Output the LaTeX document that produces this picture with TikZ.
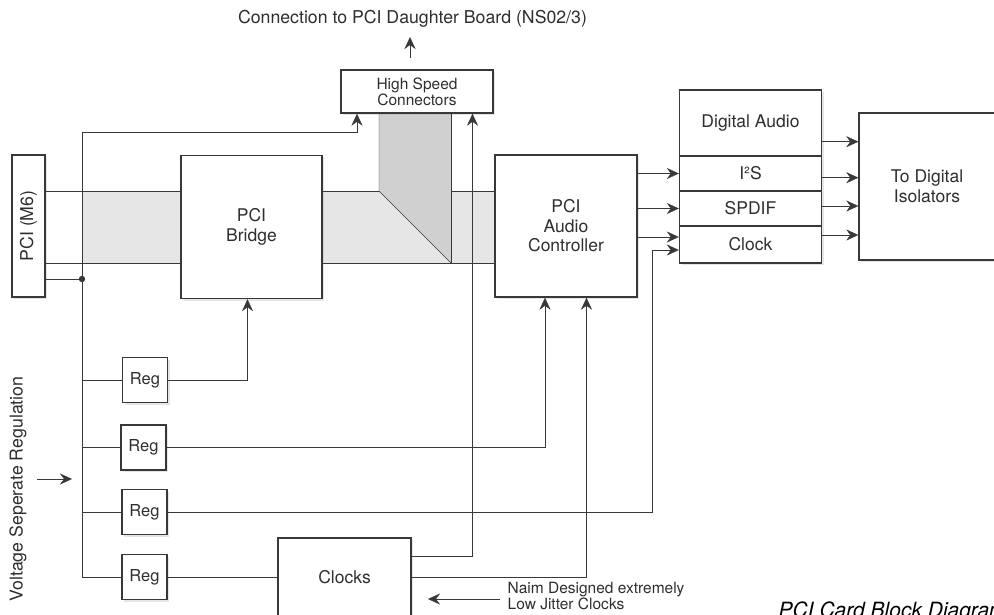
\documentclass[tikz,border=0pt]{standalone}
\usepackage{fontspec}
\setmainfont{TeX Gyre Heros}
\usetikzlibrary{arrows.meta,shadows,calc,backgrounds}
\definecolor{ln}{HTML}{383838}
\definecolor{tx}{HTML}{2E2E2E}
\definecolor{busfill}{HTML}{E6E6E6}
\definecolor{wedgefill}{HTML}{D0D0D0}
\begin{document}
\begin{tikzpicture}[x=1pt,y=-1pt,line width=1.4pt,color=ln,
  blk/.style={draw=ln,fill=white,inner sep=0pt,align=center,text=tx,
    font=\fontsize{17.5}{19.5}\selectfont,
    drop shadow={shadow xshift=2pt,shadow yshift=-2pt,opacity=0.2}},
  rowbox/.style={draw=ln,inner sep=0pt,align=center,text=tx,minimum width=142pt,
    font=\fontsize{17.5}{19.5}\selectfont},
  regbox/.style={blk,minimum width=45pt,minimum height=45pt,font=\fontsize{16.5}{18}\selectfont},
  lbl/.style={inner sep=0pt,text=tx,font=\fontsize{17.7}{19.5}\selectfont},
  smalllbl/.style={inner sep=0pt,text=tx,font=\fontsize{15.5}{15.5}\selectfont},
  arr/.style={-{Stealth[length=12pt,width=11pt,inset=4pt]}}]
\useasboundingbox (0,0) rectangle (994,615);
\clip (0,0) rectangle (994,615);

% boxes
\node[blk,minimum width=33pt,minimum height=142pt] (pci) at (28.5,226) {};
\node[lbl,rotate=90] (pcit) at (pci.center) {PCI (M6)};
\node[blk,minimum width=141pt,minimum height=143pt] (bridge) at (251.5,227) {PCI\\Bridge};
\node[blk,minimum width=152pt,minimum height=43pt,font=\fontsize{15.5}{16}\selectfont] (hsc) at (417,91.5) {High Speed\\Connectors};
\node[blk,minimum width=142pt,minimum height=142pt] (ac) at (566,226) {PCI\\Audio\\Controller};
\node[blk,minimum width=142pt,minimum height=173pt] (grp) at (750.5,176.5) {};
\node[rowbox,minimum height=66pt] (da) at (750.5,123) {Digital Audio};
\node[rowbox,minimum height=35pt] (i2s) at (750.5,173.5) {I²S};
\node[rowbox,minimum height=35pt] (spdif) at (750.5,208.5) {SPDIF};
\node[rowbox,minimum height=37pt] (clk) at (750.5,244.5) {Clock};
\node[blk,minimum width=136pt,minimum height=147pt] (iso) at (927,186.5) {To Digital\\Isolators};
\node[regbox] (r1) at (145,380) {Reg};
\node[regbox] (r2) at (143.5,447.5) {Reg};
\node[regbox] (r3) at (144.5,512) {Reg};
\node[regbox] (r4) at (144.5,577) {Reg};
\node[blk,minimum width=133pt,minimum height=78pt] (clocks) at (344.5,577) {Clocks};

% free texts
\node[lbl] (toptext) at (412.5,19) {Connection to PCI Daughter Board (NS02/3)};
\node[lbl,rotate=90] (volt) at (18,489) {Voltage Seperate Regulation};
\node[smalllbl,align=left,anchor=west] (naim) at (507,596) {Naim Designed extremely\\Low Jitter Clocks};
\node[anchor=base west,inner sep=0pt,text=black,font=\itshape\fontsize{21}{23}\selectfont] (cap) at (778,617) {PCI Card Block Diagram};

% buses
\coordinate (vt) at (82,132);
\coordinate (vb) at (82,577);
\coordinate (p1) at ($(pci.east)+(0,-35)$);
\coordinate (p2) at ($(pci.east)+(0,37)$);
\coordinate (p3) at ($(pci.east)+(0,53)$);
\coordinate (m1) at (bridge.east |- p1);
\coordinate (m2) at (bridge.east |- p2);
\coordinate (w1) at ($(hsc.south)+(-38,0)$);
\coordinate (w2) at ($(hsc.south)+(34,0)$);
\begin{pgfonlayer}{background}
\fill[busfill] (p1 -| vt) rectangle (p2 -| bridge.west);
\fill[busfill] (m1) rectangle (ac.west |- p2);
\fill[wedgefill] (w1) -- (w1 |- p1) -- (w2 |- p2) -- (w2) -- cycle;
\end{pgfonlayer}
\draw (p1) -- (p1 -| bridge.west);
\draw (p2) -- (p2 -| bridge.west);
\draw (p3) -- (p3 -| vt);
\fill (p3 -| vt) circle (3.2pt);
\draw (m1) -- (w1 |- p1);
\draw (w2 |- p1) -- (ac.west |- p1);
\draw (m2) -- (ac.west |- p2);
\draw (w1) -- (w1 |- p1) -- (w2 |- p2);
\draw (w2) -- (w2 |- p2);

% power distribution
\coordinate (h1) at ($(hsc.south)+(-60,0)$);
\draw (vb) -- (vt);
\draw[arr] (vt) -| (h1);
\foreach \r in {r1,r2,r3,r4} {\draw (\r.west) -- (\r.west -| vt);}
\coordinate (b1) at ($(bridge.south)+(-4,0)$);
\draw[arr] (r1.east) -| (b1);
\coordinate (a1) at ($(ac.south)+(-21,0)$);
\draw[arr] (r2.east) -| (a1);
\coordinate (k1) at ($(clk.west)+(-26.5,5.5)$);
\draw[arr] (r3.east) -| (k1) -- (k1 -| clk.west);
\draw (r4.east) -- (clocks.west);

% clocks
\coordinate (c1) at ($(clocks.east)+(0,-21)$);
\coordinate (h2) at ($(hsc.south)+(55.5,0)$);
\draw[arr] (c1) -| (h2);
\coordinate (a2) at ($(ac.south)+(20.5,0)$);
\draw[arr] (clocks.east) -| (a2);

% audio controller outputs
\draw[arr] (i2s.west -| ac.east) -- (i2s.west);
\draw[arr] (spdif.west -| ac.east) -- (spdif.west);
\coordinate (k2) at ($(clk.west)+(0,-7.5)$);
\draw[arr] (k2 -| ac.east) -- (k2);

% group outputs
\coordinate (o1) at ($(da.east)+(0,18.7)$);
\coordinate (o2) at ($(i2s.east)+(0,4.2)$);
\coordinate (o3) at ($(spdif.east)+(0,-2.5)$);
\coordinate (o4) at ($(clk.east)+(0,-9.5)$);
\foreach \o in {o1,o2,o3,o4} {\draw[arr] (\o) -- (\o -| iso.west);}

% free arrows
\coordinate (t1) at (410,58);
\coordinate (t2) at (410,37);
\draw[arr] (t1) -- (t2);
\coordinate (v1) at (37,479);
\coordinate (v2) at (72,479);
\draw[arr] (v1) -- (v2);
\coordinate (n1) at (500,599);
\coordinate (n2) at (428,599);
\draw[arr] (n1) -- (n2);
\end{tikzpicture}
\end{document}
